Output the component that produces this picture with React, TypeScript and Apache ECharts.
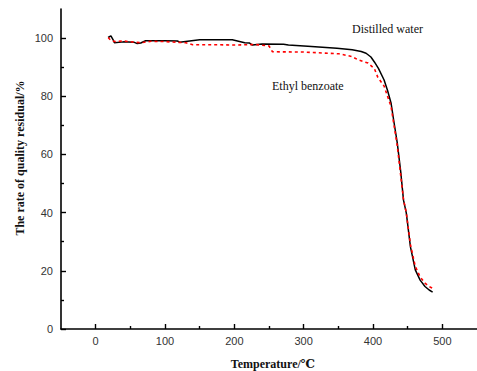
import React, { useEffect, useRef } from "react";
import * as echarts from "echarts";

const distilledT = [18, 22, 25, 27, 40, 55, 60, 65, 72, 100, 118, 121, 150, 194, 197, 215, 222, 226, 240, 271, 278, 306, 348, 370, 383, 390, 397, 402, 408, 416, 421, 426, 430, 435, 440, 444, 448, 454, 461, 468, 475, 481, 486];
const distilledV = [100.2, 100.8, 99.5, 98.4, 98.7, 98.6, 98.1, 98.3, 99.1, 99.1, 99.0, 98.6, 99.4, 99.4, 99.4, 98.4, 98.3, 97.6, 98.0, 97.9, 97.6, 97.2, 96.5, 96.0, 95.4, 94.8, 93.5, 91.8, 89.5, 85.6, 82.0, 77.7, 71.5, 64.0, 54.0, 44.3, 39.9, 28.2, 20.3, 16.8, 14.6, 13.4, 12.7];

const ethylT = [18, 22, 28, 40, 55, 65, 80, 100, 130, 140, 180, 200, 230, 250, 255, 300, 351, 369, 379, 393, 402, 407, 416, 426, 435, 444, 448, 454, 461, 468, 475, 481, 486];
const ethylV = [100.2, 99.2, 98.8, 99.0, 98.6, 98.4, 98.9, 98.8, 98.4, 97.7, 97.7, 97.6, 97.8, 97.3, 95.3, 95.2, 94.6, 93.7, 92.5, 91.4, 89.5, 86.5, 83.5, 76.5, 63.0, 44.5, 40.0, 29.0, 21.5, 17.9, 15.8, 14.6, 14.0];

const xMajor = [0, 100, 200, 300, 400, 500];
const xMinor = [50, 150, 250, 350, 450];
const yMajor = [0, 20, 40, 60, 80, 100];
const yMinor = [10, 30, 50, 70, 90];

const seriesNames = ["Distilled water", "Ethyl benzoate"];
const xTitle = "Temperature/℃";
const yTitle = "The rate of quality residual/%";

export default function App() {
  const ref = useRef<HTMLDivElement>(null);
  useEffect(() => {
    if (!ref.current) return;
    const chart = echarts.init(ref.current, null, { renderer: "svg" });
    const serif = "'Liberation Serif', 'DejaVu Serif', serif";
    const sans = "'Liberation Sans', Arial, sans-serif";
    const lineCol = "#000";
    const baseX = {
      type: "value",
      min: -50,
      max: 550,
      gridIndex: 0,
      position: "bottom",
      splitLine: { show: false },
    };
    const baseY = {
      type: "value",
      min: 0,
      max: 110,
      gridIndex: 0,
      position: "left",
      splitLine: { show: false },
    };
    chart.setOption({
      animation: false,
      grid: { left: 61, right: -12, top: 9, bottom: 42 },
      xAxis: [
        {
          ...baseX,
          axisLine: { show: true, onZero: false, lineStyle: { color: lineCol, width: 1.6 } },
          axisTick: { show: true, inside: true, length: 5, customValues: xMajor, lineStyle: { color: lineCol, width: 1.4 } },
          axisLabel: { show: true, customValues: xMajor, color: "#333", fontFamily: sans, fontSize: 11, margin: 6 },
        },
        {
          ...baseX,
          axisLine: { show: false, onZero: false },
          axisTick: { show: true, inside: true, length: 3, customValues: xMinor, lineStyle: { color: lineCol, width: 1.4 } },
          axisLabel: { show: false },
        },
      ],
      yAxis: [
        {
          ...baseY,
          axisLine: { show: true, onZero: false, lineStyle: { color: lineCol, width: 1.6 } },
          axisTick: { show: true, inside: true, length: 5, customValues: yMajor, lineStyle: { color: lineCol, width: 1.4 } },
          axisLabel: { show: true, customValues: yMajor, color: "#333", fontFamily: sans, fontSize: 11, margin: 8 },
        },
        {
          ...baseY,
          axisLine: { show: false, onZero: false },
          axisTick: { show: true, inside: true, length: 3, customValues: yMinor, lineStyle: { color: lineCol, width: 1.4 } },
          axisLabel: { show: false },
        },
      ],
      graphic: [
        {
          type: "text",
          x: 352,
          y: 29,
          style: { text: seriesNames[0], fontFamily: serif, fontSize: 12, fill: "#111", verticalAlign: "middle" },
        },
        {
          type: "text",
          x: 272,
          y: 86,
          style: { text: seriesNames[1], fontFamily: serif, fontSize: 12, fill: "#111", verticalAlign: "middle" },
        },
        {
          type: "text",
          x: 273,
          y: 364,
          style: { text: xTitle, fontFamily: serif, fontSize: 12, fontWeight: "bold", fill: "#111", align: "center", verticalAlign: "middle" },
        },
        {
          type: "text",
          x: 20,
          y: 158,
          rotation: Math.PI / 2,
          style: { text: yTitle, fontFamily: serif, fontSize: 12, fontWeight: "bold", fill: "#111", align: "center", verticalAlign: "middle" },
        },
      ],
      series: [
        {
          name: seriesNames[0],
          type: "line",
          data: distilledT.map((t, i) => [t, distilledV[i]]),
          showSymbol: false,
          symbol: "none",
          lineStyle: { color: "#000", width: 1.5 },
          z: 2,
        },
        {
          name: seriesNames[1],
          type: "line",
          data: ethylT.map((t, i) => [t, ethylV[i]]),
          showSymbol: false,
          symbol: "none",
          lineStyle: { color: "#ff0000", width: 1.6, type: [3, 3] },
          z: 3,
        },
      ],
    });
    return () => chart.dispose();
  }, []);
  return <div ref={ref} style={{ width: 477, height: 371, position: "absolute", left: 0, top: 0 }} />;
}
